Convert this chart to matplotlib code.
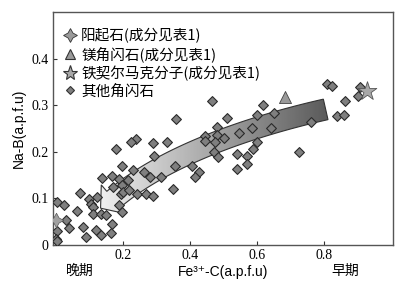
import numpy as np
import matplotlib
matplotlib.use('Agg')
import matplotlib.pyplot as plt
from matplotlib.lines import Line2D
from matplotlib.patches import Polygon

# other amphiboles (Fe3+-C, Na-B)
other_x = [0.811, 0.826, 0.907, 0.904, 0.865, 0.839, 0.861, 0.761, 0.727,
           0.468, 0.360, 0.511, 0.620, 0.600, 0.653, 0.642, 0.587, 0.546,
           0.481, 0.481, 0.501, 0.445, 0.445, 0.477, 0.333, 0.290, 0.239,
           0.226, 0.179, 0.602, 0.588, 0.293, 0.473, 0.485, 0.541, 0.540,
           0.572, 0.571, 0.199, 0.232, 0.355, 0.408, 0.428, 0.416, 0.264,
           0.281, 0.313, 0.137, 0.167, 0.190, 0.216, 0.172, 0.199, 0.194,
           0.202, 0.220, 0.244, 0.270, 0.291, 0.351, 0.073, 0.100, 0.104,
           0.124, 0.005, 0.025, 0.065, 0.110, 0.112, 0.134, 0.149, 0.189,
           0.199, 0.030, 0.040, 0.005, 0.083, 0.090, 0.120, 0.136, 0.169,
           0.166, 0.000, 0.003]
other_y = [0.345, 0.342, 0.338, 0.320, 0.308, 0.276, 0.280, 0.264, 0.200,
           0.310, 0.271, 0.273, 0.300, 0.278, 0.284, 0.252, 0.252, 0.241,
           0.253, 0.237, 0.230, 0.234, 0.224, 0.220, 0.222, 0.218, 0.227,
           0.220, 0.205, 0.222, 0.206, 0.191, 0.200, 0.188, 0.196, 0.164,
           0.190, 0.174, 0.170, 0.160, 0.169, 0.169, 0.157, 0.145, 0.156,
           0.145, 0.145, 0.143, 0.148, 0.141, 0.140, 0.124, 0.128, 0.110,
           0.113, 0.118, 0.110, 0.110, 0.106, 0.121, 0.111, 0.099, 0.089,
           0.104, 0.092, 0.085, 0.074, 0.081, 0.067, 0.067, 0.064, 0.085,
           0.071, 0.053, 0.037, 0.030, 0.038, 0.018, 0.033, 0.022, 0.046,
           0.026, 0.012, 0.008]

actinolite = (0.0, 0.053)
mg_hornblende = (0.685, 0.317)
ferri_molecule = (0.928, 0.330)

# trend arrow: bezier control points of the centre line, and the tip
arrow_x = [0.806, 0.597, 0.331, 0.173]
arrow_y = [0.291, 0.257, 0.195, 0.098]
arrow_tip = (0.134, 0.079)

labels = ['阳起石(成分见表1)', '镁角闪石(成分见表1)',
          '铁契尔马克分子(成分见表1)', '其他角闪石']

cjk = ['Noto Sans CJK SC', 'DejaVu Sans']
serif = 'Liberation Serif'
sans = ['Liberation Sans', 'DejaVu Sans']

fig = plt.figure(figsize=(4.13, 2.93), dpi=100)
ax = fig.add_axes([53 / 413, 48 / 293, 340 / 413, 233 / 293])
ax.set_xlim(-0.008, 1.007)
ax.set_ylim(0, 0.5)

# build the arrow outline in display space
P = ax.transData.transform(np.column_stack([arrow_x, arrow_y]))
t = np.linspace(0, 1, 80)[:, None]
B = ((1 - t) ** 3 * P[0] + 3 * (1 - t) ** 2 * t * P[1]
     + 3 * (1 - t) * t ** 2 * P[2] + t ** 3 * P[3])
D = (3 * (1 - t) ** 2 * (P[1] - P[0]) + 6 * (1 - t) * t * (P[2] - P[1])
     + 3 * t ** 2 * (P[3] - P[2]))
D = D / np.linalg.norm(D, axis=1)[:, None]
N = np.column_stack([-D[:, 1], D[:, 0]])
hw = 10.5
upper = B + N * hw
lower = B - N * hw
c1 = B[-1] + N[-1] * 19
c2 = B[-1] - N[-1] * 19
tip = ax.transData.transform(arrow_tip)
outline = np.vstack([upper, c1, tip, c2, lower[::-1]])
outline = ax.transData.inverted().transform(outline)

patch = Polygon(outline, closed=True, facecolor='none',
                edgecolor='#333333', lw=0.8, zorder=2)
ax.add_patch(patch)
gx = np.linspace(-0.008, 1.007, 300)
grad = np.clip(0.94 - 0.6 * (gx - 0.13) / 0.7, 0.3, 0.95)[None, :]
im = ax.imshow(grad, extent=[-0.008, 1.007, 0, 0.5], cmap='gray',
               vmin=0, vmax=1, aspect='auto', zorder=1.5,
               interpolation='bilinear')
im.set_clip_path(patch)
ax.set_xlim(-0.008, 1.007)
ax.set_ylim(0, 0.5)

ax.scatter(other_x, other_y, marker='D', s=25, c='#7f7f7f',
           edgecolors='#2a2a2a', linewidths=0.8, zorder=3)
ax.scatter(*actinolite, marker=(4, 1, 0), s=110, c='#a0a0a0',
           edgecolors='#555555', linewidths=0.5, zorder=4)
ax.scatter(*mg_hornblende, marker='^', s=75, c='#9a9a9a',
           edgecolors='#444444', linewidths=0.6, zorder=4)
ax.scatter(*ferri_molecule, marker='*', s=200, c='#a8a8a8',
           edgecolors='#555555', linewidths=0.6, zorder=4)

handles = [
    Line2D([], [], ls='', marker=(4, 1, 0), ms=10, mfc='#9a9a9a',
           mec='#333333', mew=0.6),
    Line2D([], [], ls='', marker='^', ms=7, mfc='#9a9a9a',
           mec='#333333', mew=0.8),
    Line2D([], [], ls='', marker='*', ms=11, mfc='#a8a8a8',
           mec='#333333', mew=0.8),
    Line2D([], [], ls='', marker='D', ms=4.5, mfc='#7f7f7f',
           mec='#333333', mew=0.8),
]
ax.legend(handles, labels, loc='upper left', frameon=False,
          prop={'family': cjk, 'size': 10.5}, handlelength=1.0,
          handletextpad=0.3, labelspacing=0.22,
          borderaxespad=0.0, bbox_to_anchor=(0.01, 0.955))

ax.set_xticks([0.2, 0.4, 0.6, 0.8])
ax.set_xticklabels(['0.2', '0.4', '0.6', '0.8'])
ax.set_yticks([0, 0.1, 0.2, 0.3, 0.4])
ax.set_yticklabels(['0', '0.1', '0.2', '0.3', '0.4'])
ax.tick_params(direction='in', length=3, width=0.8, color='#333333',
               labelsize=10, pad=3)
for lab in ax.get_xticklabels() + ax.get_yticklabels():
    lab.set_fontfamily(serif)
for s in ax.spines.values():
    s.set_color('#555555')
    s.set_linewidth(1.0)

ax.set_xlabel('Fe³⁺-C(a.p.f.u)', family=sans, fontsize=10, labelpad=2)
ax.set_ylabel('Na-B(a.p.f.u)', family=sans, fontsize=10, labelpad=4)
ax.text(0.08, -0.11, '晚期', transform=ax.transAxes, ha='center',
        va='center', family=cjk, fontsize=10)
ax.text(0.86, -0.11, '早期', transform=ax.transAxes, ha='center',
        va='center', family=cjk, fontsize=10)

fig.savefig('out.png', dpi=100)
